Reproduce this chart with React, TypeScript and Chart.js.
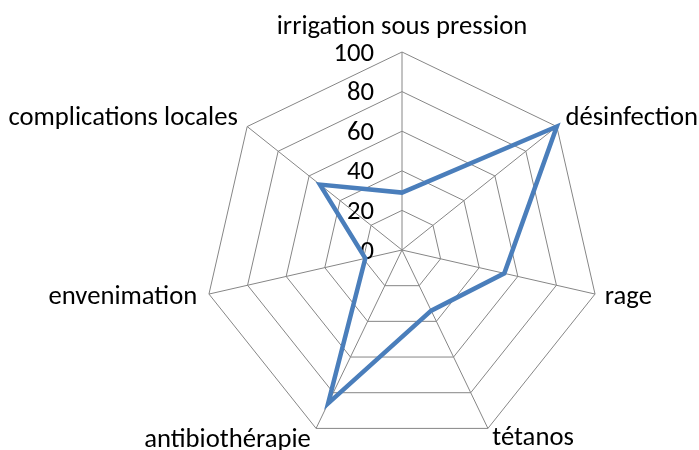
import React, { useEffect, useRef } from "react";
import { Chart, registerables } from "chart.js";

Chart.register(...registerables);

const categories = [
  "irrigation sous pression",
  "désinfection",
  "rage",
  "tétanos",
  "antibiothérapie",
  "envenimation",
  "complications locales",
];
const values = [29, 100, 53, 34, 86, 19, 53];
const tickMin = 0;
const tickMax = 100;
const tickStep = 20;

const FONT = "Carlito, Calibri, Lato, 'Noto Sans', sans-serif";
const FONT_SIZE = 26.67;
const labelPadding = [24, 11, 10, 10, 12, 12, 12];

// The canvas is larger than the 699x450 view and offset, so the chart
// library's own radar fitting places the plot where the reference has it.
const CANVAS_W = 1000;
const CANVAS_H = 500;
const OFFSET_X = 98;
const OFFSET_Y = 25;

const tickLabelPlugin = {
  id: "tickLabelsLeft",
  beforeDatasetsDraw(chart: any) {
    const scale = chart.scales.r;
    const ctx = chart.ctx;
    ctx.save();
    ctx.font = `${FONT_SIZE}px ${FONT}`;
    ctx.fillStyle = "#000000";
    ctx.textAlign = "right";
    ctx.textBaseline = "middle";
    scale.ticks.forEach((t: any) => {
      const d = scale.getDistanceFromCenterForValue(t.value);
      ctx.fillText(String(t.label), scale.xCenter - 28, scale.yCenter - d + 2);
    });
    ctx.restore();
  },
};

export default function App() {
  const ref = useRef<HTMLCanvasElement | null>(null);
  useEffect(() => {
    if (!ref.current) return;
    const chart = new Chart(ref.current, {
      type: "radar",
      data: {
        labels: categories,
        datasets: [
          {
            data: values,
            borderColor: "#4A7EBB",
            borderWidth: 4.5,
            fill: false,
            pointRadius: 0,
            pointHoverRadius: 0,
            tension: 0,
          },
        ],
      },
      options: {
        responsive: false,
        animation: false,
        devicePixelRatio: 1,
        layout: { padding: { top: 38, bottom: 13, left: 0, right: 0 } },
        plugins: { legend: { display: false }, tooltip: { enabled: false } },
        scales: {
          r: {
            min: tickMin,
            max: tickMax,
            ticks: { stepSize: tickStep, display: false },
            grid: { color: "#868686", lineWidth: 1 },
            angleLines: { color: "#868686", lineWidth: 1 },
            pointLabels: {
              color: "#000000",
              font: { family: FONT, size: FONT_SIZE, lineHeight: "2px" },
              padding: (ctx: any) => labelPadding[ctx.index],
            },
          },
        },
      },
      plugins: [tickLabelPlugin],
    });
    return () => chart.destroy();
  }, []);
  return (
    <div
      style={{
        position: "absolute",
        left: 0,
        top: 0,
        width: 699,
        height: 450,
        overflow: "hidden",
        background: "#fff",
      }}
    >
      <canvas
        ref={ref}
        width={CANVAS_W}
        height={CANVAS_H}
        style={{ position: "absolute", left: -OFFSET_X, top: -OFFSET_Y }}
      />
    </div>
  );
}
